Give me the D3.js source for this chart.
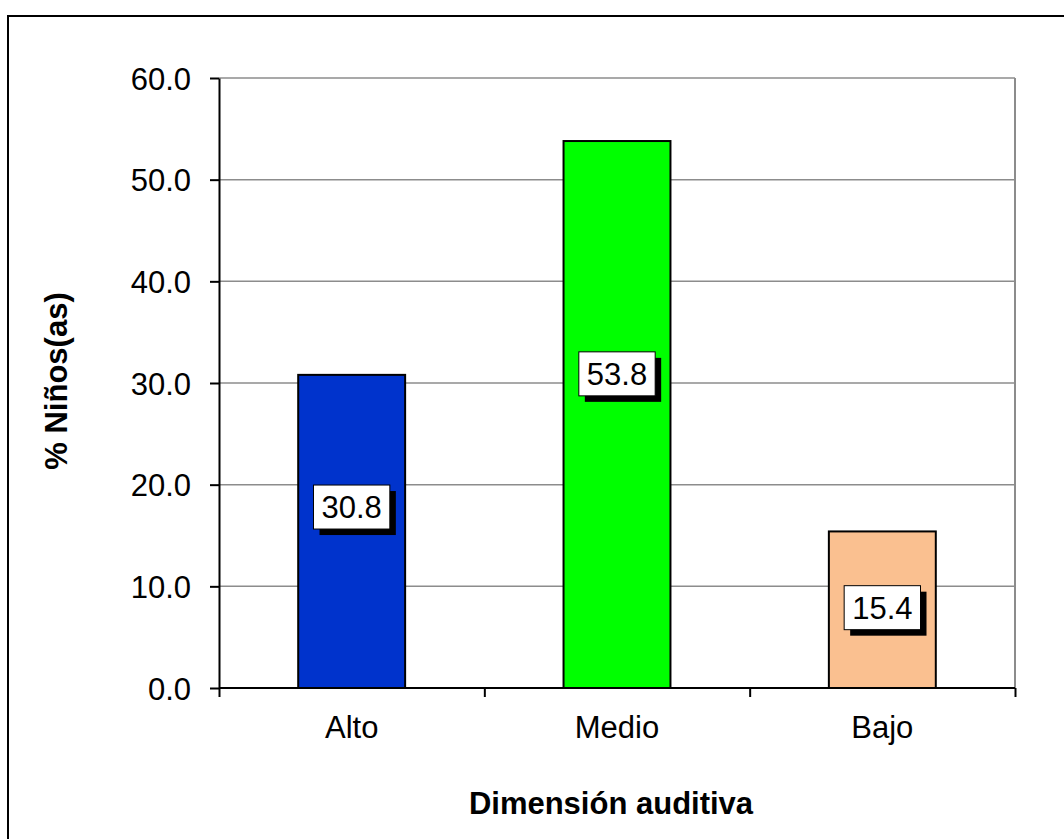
<!DOCTYPE html>
<html lang="es">
<head>
<meta charset="UTF-8">
<title>Dimensión auditiva</title>
<style>
    body{
        margin:0;
        background:#fff;
        font-family: "Liberation Sans", Arial, Helvetica, sans-serif;
    }
    svg{
        display:block;
    }
    .grid line{
        stroke:#8c8c8c;
        stroke-width:1.5;
    }
    .axis path, .axis line{
        stroke:#000;
        stroke-width:2;
    }
    .axis text{
        font-size:31px;
        fill:#000;
    }
    .title{
        font-size:31px;
        font-weight:bold;
        text-anchor:middle;
    }
    .bar{
        stroke:#000;
        stroke-width:2;
    }
    .val-label{
        font-size:31px;
        text-anchor:middle;
    }
</style>
<script src="https://d3js.org/d3.v7.min.js"></script>
</head>
<body>
<script>
    var categories = ["Alto", "Medio", "Bajo"];
    var values = [30.8, 53.8, 15.4];
    var barColors = ["#0033cc", "#00ff00", "#fac090"];
    var labelAt = [17.8, 30.9, 7.9];   // where excel put the value boxes
    var yTicks = [0, 10, 20, 30, 40, 50, 60];

    var width = 1064, height = 839;
    // plot area edges (plain "top" would clash with window.top)
    var plotLeft = 219, plotRight = 1015, plotTop = 78, plotBottom = 688;

    var svg = d3.select("body").append("svg")
        .attr("width", width)
        .attr("height", height);

    // outer frame, runs off the right and bottom edge
    svg.append("rect")
        .attr("x", 8)
        .attr("y", 16)
        .attr("width", 1200)
        .attr("height", 1000)
        .attr("fill", "none")
        .attr("stroke", "#000")
        .attr("stroke-width", 2);

    var x = d3.scaleBand()
        .domain(categories)
        .range([plotLeft, plotRight])
        .paddingInner(0.597)
        .paddingOuter(0.2985);

    var xEdges = d3.scaleLinear()
        .domain([0, categories.length])
        .range([plotLeft, plotRight]);

    var y = d3.scaleLinear()
        .domain([0, 60])
        .range([plotBottom, plotTop]);

    // gridlines
    svg.append("g")
        .attr("class", "grid")
        .selectAll("line")
        .data(yTicks.slice(1))
        .enter().append("line")
            .attr("x1", plotLeft)
            .attr("x2", plotRight)
            .attr("y1", function(d){ return y(d); })
            .attr("y2", function(d){ return y(d); });

    // right edge of plot area
    svg.append("line")
        .attr("x1", plotRight).attr("x2", plotRight)
        .attr("y1", plotTop).attr("y2", plotBottom)
        .attr("stroke", "#8c8c8c")
        .attr("stroke-width", 2);

    // bars
    svg.append("g")
        .selectAll("rect")
        .data(values)
        .enter().append("rect")
            .attr("class", "bar")
            .attr("x", function(d, i){ return x(categories[i]); })
            .attr("y", function(d){ return y(d); })
            .attr("width", x.bandwidth())
            .attr("height", function(d){ return y(0) - y(d); })
            .attr("fill", function(d, i){ return barColors[i]; });

    // y axis
    svg.append("g")
        .attr("class", "axis")
        .attr("transform", "translate(" + plotLeft + ",0)")
        .call(d3.axisLeft(y)
            .tickValues(yTicks)
            .tickSize(9)
            .tickSizeOuter(0)
            .tickPadding(19)
            .tickFormat(d3.format(".1f")))
        .selectAll("text")
            .attr("dy", "0.36em");

    // x axis: labels centred in each band, ticks on the band edges
    var xAxis = svg.append("g")
        .attr("class", "axis")
        .attr("transform", "translate(0," + plotBottom + ")")
        .call(d3.axisBottom(x).tickSize(0).tickPadding(28));
    xAxis.select(".domain").attr("d", "M" + plotLeft + ",0H" + plotRight);

    svg.append("g")
        .attr("class", "axis")
        .attr("transform", "translate(0," + plotBottom + ")")
        .call(d3.axisBottom(xEdges)
            .tickValues(d3.range(categories.length + 1))
            .tickSize(9)
            .tickFormat(""))
        .select(".domain").remove();

    // value boxes with a drop shadow
    var labels = svg.append("g")
        .selectAll("g")
        .data(values)
        .enter().append("g")
            .attr("transform", function(d, i){
                return "translate(" + (x(categories[i]) + x.bandwidth() / 2) + "," + y(labelAt[i]) + ")";
            });

    labels.each(function(d){
        var g = d3.select(this);
        var shadow = g.append("rect").attr("fill", "#000");
        var box = g.append("rect")
            .attr("fill", "#fff")
            .attr("stroke", "#000")
            .attr("stroke-width", 1);
        var t = g.append("text")
            .attr("class", "val-label")
            .attr("dy", "0.36em")
            .text(d3.format(".1f")(d));
        var w = t.node().getComputedTextLength() + 16, h = 44;
        box.attr("x", -w / 2).attr("y", -h / 2).attr("width", w).attr("height", h);
        shadow.attr("x", -w / 2 + 6).attr("y", -h / 2 + 6).attr("width", w).attr("height", h);
    });

    // axis titles
    svg.append("text")
        .attr("class", "title")
        .attr("x", (plotLeft + plotRight) / 2 - 6)
        .attr("y", 814)
        .text("Dimensión auditiva");

    svg.append("text")
        .attr("class", "title")
        .attr("transform", "translate(67," + ((plotTop + plotBottom) / 2 - 2) + ") rotate(-90)")
        .text("% Niños(as)");
</script>
</body>
</html>
